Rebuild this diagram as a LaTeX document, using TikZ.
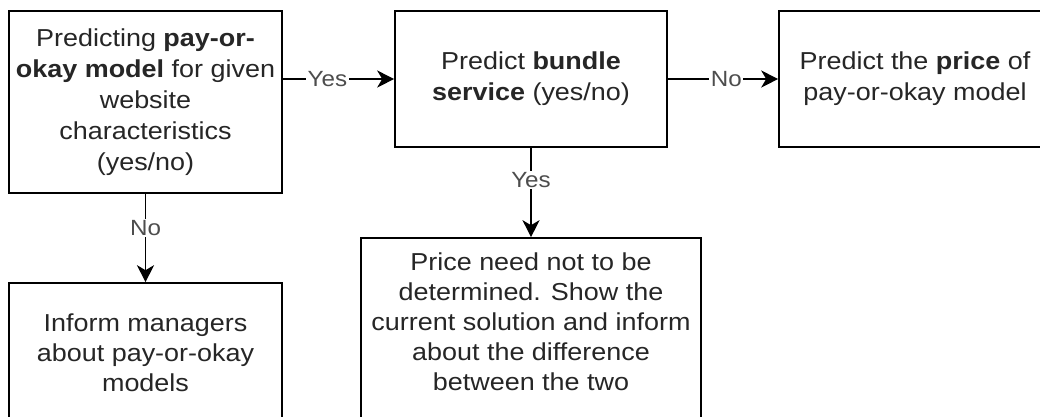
\documentclass[tikz,border=0pt]{standalone}
\usepackage{fontspec}
\setmainfont[FakeStretch=1.1]{Liberation Sans}
\usetikzlibrary{arrows.meta}
\definecolor{txt}{HTML}{262626}
\definecolor{lbltxt}{HTML}{4D4D4D}
\begin{document}
\begin{tikzpicture}[x=1pt,y=-1pt,
  box/.style={draw=black, line width=1.6pt, rectangle, inner sep=0pt, align=center,
    font=\fontsize{24.5}{31}\selectfont, text=txt},
  boxtext/.style={inner sep=0pt, align=center, font=\fontsize{24.5}{30}\selectfont, text=txt},
  lbl/.style={fill=white, inner sep=1.5pt, font=\fontsize{22}{26}\selectfont, text=lbltxt},
  arr/.style={draw=black, line width=1.6pt, -{Stealth[length=17pt,width=17pt,inset=5pt]}}]
\useasboundingbox (0,0) rectangle (1040,416);
\clip (0,0) rectangle (1040,416);
\fill[white] (0,0) rectangle (1040,416);
\node[box, minimum width=273pt, minimum height=182pt] (A) at (145.5,102)
  {Predicting \textbf{pay-or-}\\\textbf{okay model} for given\\website\\characteristics\\(yes/no)};
\node[box, minimum width=272pt, minimum height=136pt] (B) at (531,79)
  {Predict \textbf{bundle}\\\textbf{service} (yes/no)};
\node[box, minimum width=272pt, minimum height=136pt] (C) at (915,79)
  {Predict the \textbf{price} of\\pay-or-okay model};
\node[box, minimum width=273pt, minimum height=140pt, font=\fontsize{24.5}{30}\selectfont] (D) at (145.5,353)
  {Inform managers\\about pay-or-okay\\models};
\node[box, minimum width=340pt, minimum height=190pt] (E) at (531,333) {};
\node[boxtext] (Et) at (531,322)
  {Price need not to be\\determined. Show the\\current solution and inform\\about the difference\\between the two};
\draw[arr] (A.east |- B.west) -- node[lbl,pos=0.4]{Yes} (B.west);
\draw[arr] (B.east) -- node[lbl,pos=0.53]{No} (C.west);
\draw[arr] (A.south) -- node[lbl,pos=0.385]{No} (D.north);
\draw[arr] (B.south) -- node[lbl,pos=0.36]{Yes} (E.north);
\end{tikzpicture}
\end{document}
